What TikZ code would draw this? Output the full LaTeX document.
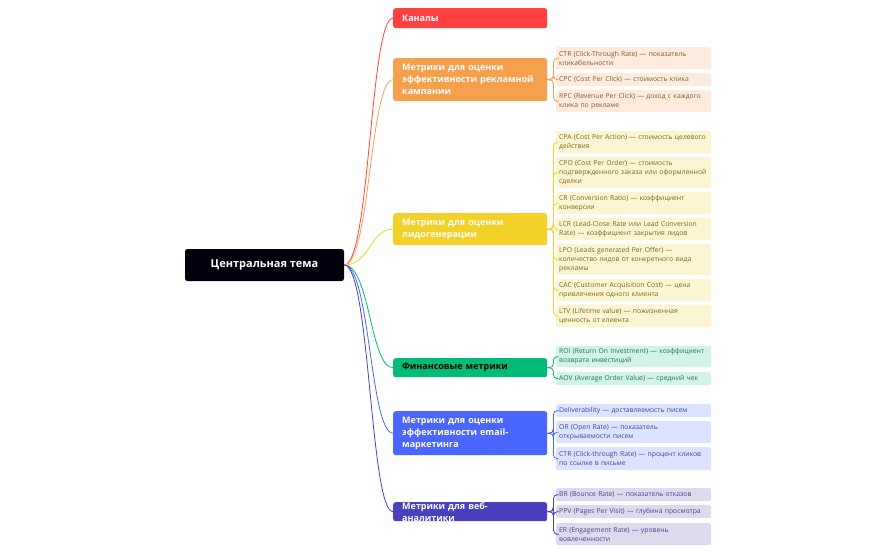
\documentclass[tikz,border=0pt]{standalone}
\usepackage{fontspec}
\setmainfont{Open Sans}
\begin{document}
\begin{tikzpicture}[x=1pt,y=-1pt,
 br/.style={rounded corners=2.5pt,anchor=north west,inner sep=0pt,text=white,font=\bfseries\fontsize{9}{12}\selectfont,align=left,text width=136pt,inner xsep=9pt},
 lf/.style={rounded corners=2pt,anchor=north west,inner sep=0pt,font=\fontsize{6.8}{9}\selectfont,align=left,text width=149pt,inner xsep=3pt},
 con/.style={line width=0.8pt,rounded corners=4pt}]
\definecolor{cR}{HTML}{FF4040}\definecolor{cO}{HTML}{F5A04C}\definecolor{cY}{HTML}{F2D128}
\definecolor{cG}{HTML}{00BC78}\definecolor{cB}{HTML}{4A66FF}\definecolor{cP}{HTML}{4A40BE}
\definecolor{lO}{HTML}{FDEBDD}\definecolor{lY}{HTML}{FCF5D2}\definecolor{lG}{HTML}{D2F3E6}
\definecolor{lB}{HTML}{DDE2FF}\definecolor{lP}{HTML}{DDDAF0}
\definecolor{tO}{HTML}{8A5A2A}\definecolor{tY}{HTML}{7A6A1A}\definecolor{tG}{HTML}{1A7A55}
\definecolor{tB}{HTML}{3A4AA0}\definecolor{tP}{HTML}{4A4480}
\useasboundingbox (0,0) rectangle (894,554);
\node[fill=black!95!blue,rounded corners=2.5pt,minimum width=159pt,minimum height=32pt,text=white,font=\bfseries\fontsize{11}{13}\selectfont] (c) at (264.5,265) {Центральная тема};
% branches
\newcommand\mbr[6]{\node[br,fill=#2,minimum height=#4pt] (#1) at (393,#3) {#5};
 \draw[con,#2,rounded corners=0] (c.east) .. controls (370,265) and (370,#3+#4/2) .. (#1.west);}
\mbr{b1}{cR}{8}{20}{Каналы}{}
\mbr{b2}{cO}{58}{43}{Метрики для оценки эффективности рекламной кампании}{}
\mbr{b3}{cY}{213}{32}{Метрики для оценки лидогенерации}{}
\mbr{b4}{cG}{358}{19}{\textcolor{black}{Финансовые метрики}}{}
\mbr{b5}{cB}{411}{44}{Метрики для оценки эффективности email-маркетинга}{}
\mbr{b6}{cP}{502}{19}{Метрики для веб-аналитики}{}
% leaves: name, branch, colour, fill, text colour, top, height, text
\newcommand\mlf[8]{\node[lf,fill=#4,text=#5,minimum height=#7pt] (#1) at (556,#6) {#8};
 \draw[con,#3] (#2.east) -- ++(6,0) |- (#1.west);}
\mlf{o1}{b2}{cO}{lO}{tO}{47}{22}{CTR (Click-Through Rate) — показатель кликабельности}
\mlf{o2}{b2}{cO}{lO}{tO}{73}{13}{CPC (Cost Per Click) — стоимость клика}
\mlf{o3}{b2}{cO}{lO}{tO}{90}{22}{RPC (Revenue Per Click) — доход с каждого клика по рекламе}
\mlf{y1}{b3}{cY}{lY}{tY}{131}{22}{CPA (Cost Per Action) — стоимость целевого действия}
\mlf{y2}{b3}{cY}{lY}{tY}{157}{31}{CPO (Cost Per Order) — стоимость подтвержденного заказа или оформленной сделки}
\mlf{y3}{b3}{cY}{lY}{tY}{192}{22}{CR (Conversion Ratio) — коэффициент конверсии}
\mlf{y4}{b3}{cY}{lY}{tY}{218}{22}{LCR (Lead-Close Rate или Lead Conversion Rate) — коэффициент закрытия лидов}
\mlf{y5}{b3}{cY}{lY}{tY}{244}{31}{LPO (Leads generated Per Offer) — количество лидов от конкретного вида рекламы}
\mlf{y6}{b3}{cY}{lY}{tY}{279}{22}{CAC (Customer Acquisition Cost) — цена привлечения одного клиента}
\mlf{y7}{b3}{cY}{lY}{tY}{305}{22}{LTV (Lifetime value) — пожизненная ценность от клиента}
\mlf{g1}{b4}{cG}{lG}{tG}{346}{21}{ROI (Return On Investment) — коэффициент возврата инвестиций}
\mlf{g2}{b4}{cG}{lG}{tG}{372}{13}{AOV (Average Order Value) — средний чек}
\mlf{u1}{b5}{cB}{lB}{tB}{404}{13}{Deliverability — доставляемость писем}
\mlf{u2}{b5}{cB}{lB}{tB}{421}{22}{OR (Open Rate) — показатель открываемости писем}
\mlf{u3}{b5}{cB}{lB}{tB}{447}{23}{CTR (Click-through Rate) — процент кликов по ссылке в письме}
\mlf{p1}{b6}{cP}{lP}{tP}{488}{13}{BR (Bounce Rate) — показатель отказов}
\mlf{p2}{b6}{cP}{lP}{tP}{505}{13}{PPV (Pages Per Visit) — глубина просмотра}
\mlf{p3}{b6}{cP}{lP}{tP}{523}{22}{ER (Engagement Rate) — уровень вовлеченности}
\end{tikzpicture}
\end{document}
